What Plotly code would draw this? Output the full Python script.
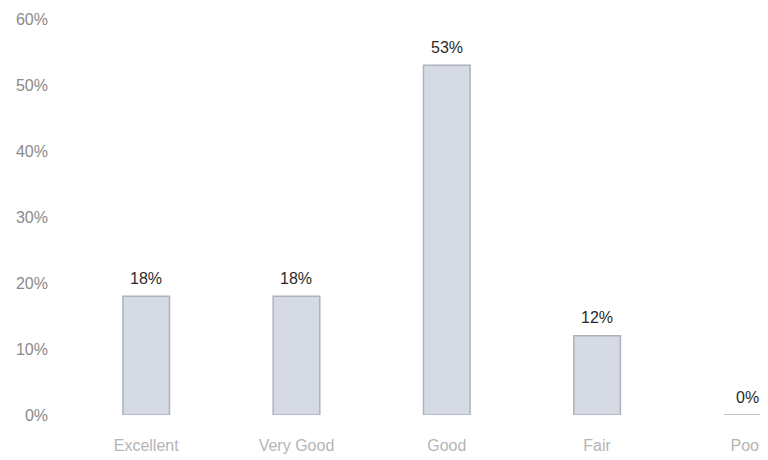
import plotly.graph_objects as go

categories = ["Excellent", "Very Good", "Good", "Fair", "Poor"]
values = [18, 18, 53, 12, 0]
value_labels = ["18%", "18%", "53%", "12%", "0%"]
y_ticks = [0, 10, 20, 30, 40, 50, 60]
y_tick_labels = ["0%", "10%", "20%", "30%", "40%", "50%", "60%"]

fig = go.Figure()
fig.add_trace(go.Bar(
    x=categories,
    y=values,
    marker=dict(color="#d6dae4", line=dict(color="#aeb2bd", width=1.5)),
    width=0.31,
))

for c, v, t in zip(categories, values, value_labels):
    fig.add_annotation(
        x=c, y=v, text=t, showarrow=False,
        yanchor="middle", yshift=18,
        font=dict(size=16, color="#2a2a2a", family="Liberation Sans"),
    )

fig.update_layout(
    width=768, height=460,
    margin=dict(l=63, r=0, t=11, b=53),
    plot_bgcolor="white", paper_bgcolor="white",
    showlegend=False,
    xaxis=dict(
        range=[-0.5, 4.19],
        showgrid=False, showline=False, zeroline=False,
        ticks="", tickfont=dict(size=16, color="#b5b5b5", family="Liberation Sans"),
        ticklabelstandoff=19,
    ),
    yaxis=dict(
        range=[0, 60],
        tickvals=y_ticks, ticktext=y_tick_labels,
        showgrid=False, showline=False, zeroline=False,
        ticks="", tickfont=dict(size=16, color="#8a8a8a", family="Liberation Sans"),
        ticklabelstandoff=22,
    ),
)

fig.write_html("out.html")
